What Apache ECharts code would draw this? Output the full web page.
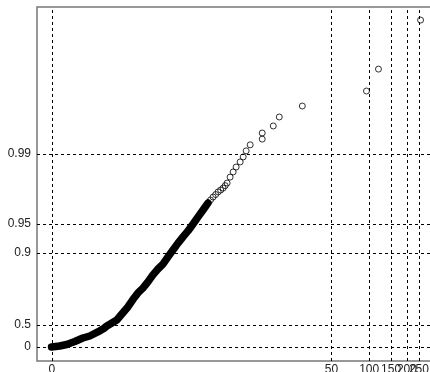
<!DOCTYPE html>
<html><head><meta charset="utf-8">
<script src="https://cdn.jsdelivr.net/npm/echarts@6/dist/echarts.min.js"></script>
<style>html,body{margin:0;padding:0;background:#fff}#c{width:430px;height:372px}</style>
</head><body><div id="c"></div>
<script>
// Tick values
const xTicks = [0, 50, 100, 150, 200, 250];
const yTicks = [0, 0.5, 0.9, 0.95, 0.99];

// Dense part of the sample (drawn as a solid band of overlapping points)
const denseX = [0, 0.048, 0.096, 0.159, 0.232, 0.304, 0.400, 0.48, 0.52, 0.691, 0.787, 0.913, 1.030, 1.158, 1.297, 1.451, 1.619, 1.804, 2.005, 2.227, 2.470, 2.737, 3.027, 3.347, 3.699, 4.084, 4.502, 4.964];
const denseP = [0, 0.031, 0.076, 0.159, 0.247, 0.293, 0.377, 0.442, 0.48, 0.553, 0.609, 0.666, 0.717, 0.756, 0.781, 0.809, 0.837, 0.857, 0.872, 0.891, 0.907, 0.921, 0.932, 0.941, 0.950, 0.9575, 0.9638, 0.9692];

// Upper tail: individual points
const tailX = [5.2, 5.47, 5.75, 6.03, 6.33, 6.63, 6.9, 7.16, 7.58, 8.03, 8.50, 9.17, 9.71, 10.27, 11.08, 13.88, 13.88, 17.06, 19.08, 29.25, 95.3, 118.8, 257];
const tailP = [0.9712, 0.9731, 0.9746, 0.9761, 0.9771, 0.9781, 0.9793, 0.9805, 0.9830, 0.9849, 0.9865, 0.9880, 0.9893, 0.9907, 0.9919, 0.9929, 0.99383, 0.99475, 0.99573, 0.99668, 0.99765, 0.99858, 0.99954];

// ---- scales ----
const X_SHIFT = 0.3;
function xs(x) { return Math.log(x + X_SHIFT); }
// probability scale: exponential reduced variate, piecewise calibrated on ticks
const scaleT = [0, 0.6931, 2.3026, 2.9957, 4.6052];
const scaleV = [0, 22, 94, 123, 193];
function ys(p) {
  const t = -Math.log(1 - p);
  for (let i = 1; i < scaleT.length; i++) {
    if (t <= scaleT[i] || i === scaleT.length - 1) {
      return scaleV[i - 1] + (t - scaleT[i - 1]) * (scaleV[i] - scaleV[i - 1]) / (scaleT[i] - scaleT[i - 1]);
    }
  }
}
function lookup(ticks, fn, v) {
  for (const t of ticks) if (Math.abs(fn(t) - v) < 1e-6) return String(t);
  return '';
}

const xMin = xs(0) - 14.5 / 54.5, xMax = xs(0) + 383.5 / 54.5;
const font = { fontFamily: 'Liberation Sans, Arial, sans-serif', fontSize: 12, color: '#222' };
const grid = { type: [3, 3], color: '#000', width: 1 };

const chart = echarts.init(document.getElementById('c'), null, { renderer: 'canvas' });
chart.setOption({
  animation: false,
  backgroundColor: '#fff',
  grid: { left: 37, right: -6, top: 7, bottom: 11, show: true, borderColor: '#777', borderWidth: 1.5, containLabel: false, outerBoundsMode: 'none' },
  xAxis: {
    type: 'value', min: xMin, max: xMax,
    axisLine: { show: false }, axisTick: { show: false }, splitLine: { show: false },
    axisLabel: { show: false }
  },
  yAxis: {
    type: 'value', min: -14, max: 340,
    axisLine: { show: false }, axisTick: { show: false, customValues: yTicks.map(ys) }, splitLine: { show: false },
    axisLabel: Object.assign({ customValues: yTicks.map(ys), margin: 6, hideOverlap: false, formatter: v => lookup(yTicks, ys, v) }, font)
  },
  series: [
    {
      type: 'scatter', data: [], z: 1, silent: true,
      markLine: {
        silent: true, symbol: 'none', label: { show: false }, lineStyle: grid, animation: false,
        data: xTicks.map(v => ({
          xAxis: xs(v), name: String(v),
          label: Object.assign({ show: true, position: 'start', distance: 3, formatter: '{b}' }, font)
        })).concat(yTicks.map(v => ({ yAxis: ys(v) })))
      }
    },
    {
      type: 'line', z: 3, silent: true, symbol: 'none',
      lineStyle: { color: '#000', width: 7.5, cap: 'round', join: 'round' },
      data: denseX.map((x, i) => [xs(x), ys(denseP[i])])
    },
    {
      type: 'scatter', z: 4, silent: true, symbol: 'circle', symbolSize: 6,
      itemStyle: { color: 'rgba(0,0,0,0)', borderColor: '#000', borderWidth: 1 },
      data: tailX.map((x, i) => [xs(x), ys(tailP[i])])
    }
  ]
});
</script></body></html>
